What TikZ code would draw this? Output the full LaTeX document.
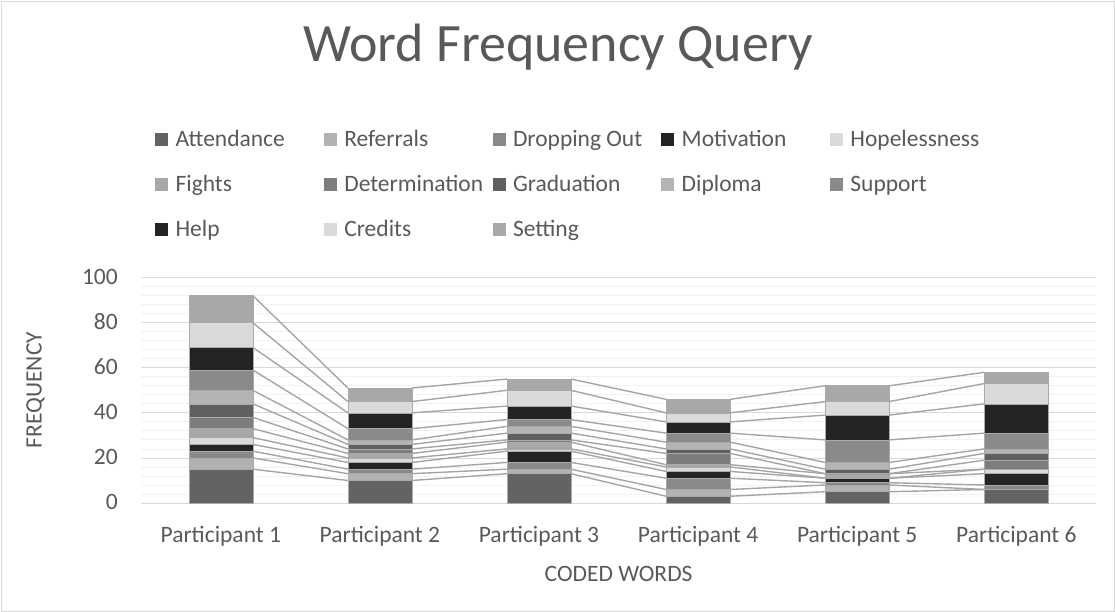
\documentclass[tikz,border=0pt]{standalone}
\usepackage{fontspec}
\setmainfont{Carlito}
\usepackage{tikz}
\usetikzlibrary{positioning}
\definecolor{txtgray}{RGB}{89,89,89}
\definecolor{majgrid}{RGB}{217,217,217}
\definecolor{mingrid}{RGB}{242,242,242}
\definecolor{serline}{RGB}{165,165,165}
\definecolor{segedge}{RGB}{170,170,170}
% series shades, Attendance ... Setting
\definecolor{ser1}{RGB}{99,99,99}
\definecolor{ser2}{RGB}{178,178,178}
\definecolor{ser3}{RGB}{137,137,137}
\definecolor{ser4}{RGB}{36,36,36}
\definecolor{ser5}{RGB}{218,218,218}
\definecolor{ser6}{RGB}{168,168,168}
\definecolor{ser7}{RGB}{125,125,125}
\definecolor{ser8}{RGB}{96,96,96}
\definecolor{ser9}{RGB}{180,180,180}
\definecolor{ser10}{RGB}{138,138,138}
\definecolor{ser11}{RGB}{36,36,36}
\definecolor{ser12}{RGB}{218,218,218}
\definecolor{ser13}{RGB}{168,168,168}

\begin{document}
\begin{tikzpicture}[x=1pt,y=-1pt,
  lbl/.style={font=\fontsize{23.5}{28}\selectfont,text=txtgray,inner sep=0pt,text height=17pt,text depth=4pt},
  ttl/.style={font=\fontsize{54}{60}\selectfont,text=txtgray,inner sep=0pt},
  keybox/.style={minimum size=13pt,inner sep=0pt},
  seg/.style={draw=segedge,line width=0.6pt},
  trend/.style={draw=serline,line width=1.4pt}
]
  \useasboundingbox (0,0) rectangle (1115,612);
  \draw[majgrid,line width=0.8pt] (1,1) rectangle (1114,611);

  \node[ttl,anchor=base] (title) at (558,62) {Word Frequency Query};

  % legend, five per row
  \foreach \name [count=\i from 0] in {Attendance,Referrals,Dropping Out,Motivation,Hopelessness,Fights,Determination,Graduation,Diploma,Support,Help,Credits,Setting}{
    \pgfmathtruncatemacro\col{mod(\i,5)}
    \pgfmathtruncatemacro\row{div(\i,5)}
    \pgfmathtruncatemacro\s{\i+1}
    \node[keybox,fill=ser\s,anchor=west] (key\s) at ({155+168.7*\col},{140+45*\row}) {};
    \node[lbl,right=7pt of key\s] (keytext\s) {\name};
  }

  % plot area, value units upwards
  \begin{scope}[shift={(0,503)},y=2.254pt]
    \foreach \v in {0,4,...,100}
      \draw[mingrid,line width=0.8pt] (141.3,\v) -- (1095.9,\v);
    \foreach \v in {0,20,...,100}{
      \draw[majgrid,line width=0.8pt] (141.3,\v) -- (1095.9,\v);
      \node[lbl,anchor=east] (tick\v) at (118,\v) {\v};
    }
    % cumulative tops of the 13 series
    \foreach \p/\tops in {1/{15,20,23,26,29,33,38,44,50,59,69,80,92},
                          2/{10,13,15,18,20,22,24,26,28,33,40,45,51},
                          3/{13,15,18,23,24,27,28,31,34,37,43,50,55},
                          4/{3,6,11,14,16,17,22,24,27,31,36,40,46},
                          5/{5,8,9,11,11,13,13,15,18,28,39,45,52},
                          6/{6,6,8,13,15,15,19,22,24,31,44,53,58}}{
      \pgfmathsetmacro\xc{220.8+159.1*(\p-1)}
      \foreach \t [count=\s, remember=\t as \b (initially 0)] in \tops {
        \filldraw[seg,fill=ser\s] (\xc-32,\b) rectangle (\xc+32,\t);
        \coordinate (top\p-\s-l) at (\xc-32,\t);
        \coordinate (top\p-\s-r) at (\xc+32,\t);
      }
    }
    \foreach \p in {1,...,5}{
      \pgfmathtruncatemacro\q{\p+1}
      \foreach \s in {1,...,13}
        \draw[trend] (top\p-\s-r) -- (top\q-\s-l);
    }
  \end{scope}

  \foreach \p in {1,...,6}
    \node[lbl] (cat\p) at ({220.8+159.1*(\p-1)},536) {Participant \p};
  \node[lbl] (xtitle) at (618.6,575) {CODED WORDS};
  \node[lbl,rotate=90] (ytitle) at (35,390) {FREQUENCY};
\end{tikzpicture}
\end{document}
